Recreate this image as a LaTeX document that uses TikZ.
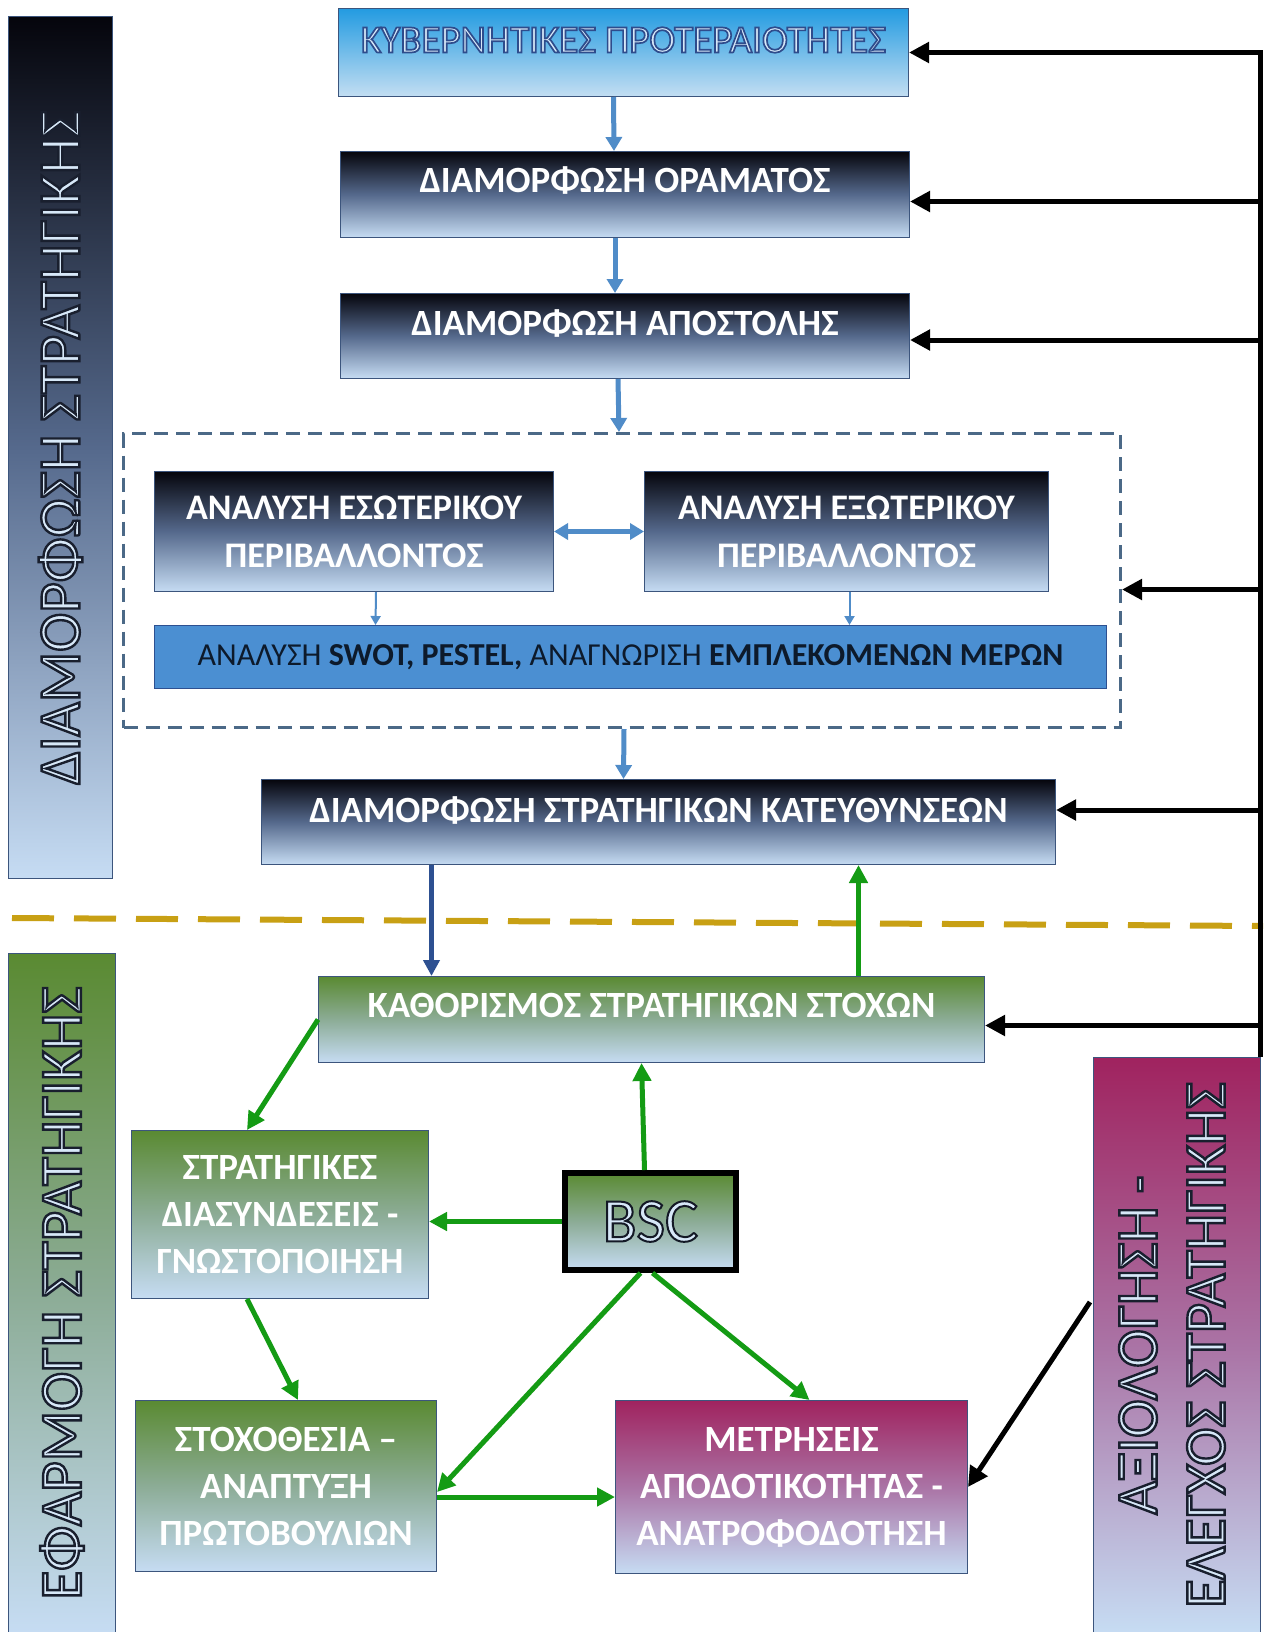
\documentclass[tikz,border=0pt]{standalone}
\usepackage{fontspec}
\setmainfont{Carlito}
\usetikzlibrary{arrows.meta,calc}
\definecolor{dkTop}{RGB}{5,5,12}
\definecolor{dkMid}{RGB}{85,105,140}
\definecolor{ltBot}{RGB}{198,220,243}
\definecolor{skyTop}{RGB}{35,155,225}
\definecolor{skyBot}{RGB}{195,222,242}
\definecolor{grTop}{RGB}{90,138,50}
\definecolor{grMid}{RGB}{140,172,150}
\definecolor{mgTop}{RGB}{160,35,95}
\definecolor{mgMid}{RGB}{170,115,165}
\definecolor{edge}{RGB}{60,85,125}
\definecolor{swotFill}{RGB}{75,143,210}
\definecolor{arrBlue}{RGB}{80,140,200}
\definecolor{arrNavy}{RGB}{45,80,145}
\definecolor{arrGreen}{RGB}{20,155,20}
\definecolor{goldline}{RGB}{200,160,20}
\definecolor{dashEdge}{RGB}{75,105,135}
\definecolor{paleText}{RGB}{215,232,248}
\definecolor{swotText}{RGB}{13,26,43}
% outlined text: #1 = stroke rgb (0..1 triple), #2 = stroke width (bp), #3 = text
\newcommand{\otext}[3]{\special{pdf:code 2 Tr #2 w #1 RG}#3\special{pdf:code 0 Tr}}
\begin{document}
\begin{tikzpicture}[x=1pt,y=-1pt,
  box/.style={draw=edge, line width=1pt, anchor=north west, inner sep=0pt, align=center, text=white,
    font=\bfseries\fontsize{37}{48}\selectfont},
  dark/.style={box, top color=dkTop, bottom color=ltBot, middle color=dkMid},
  sky/.style={box, top color=skyTop, bottom color=skyBot},
  grn/.style={box, top color=grTop, bottom color=ltBot, middle color=grMid},
  mag/.style={box, top color=mgTop, bottom color=ltBot, middle color=mgMid},
  bar/.style={draw=edge, line width=1pt, anchor=north west, inner sep=0pt,
    font=\fontsize{59}{68}\selectfont},
  lift/.style={text height=24pt, text depth=#1},
  blu/.style={draw=arrBlue, line width=5pt, -{Triangle[length=14pt,width=16pt]}},
  blus/.style={draw=arrBlue, line width=2pt, -{Triangle[length=9pt,width=10pt]}},
  garrow/.style={draw=arrGreen, line width=5pt, -{Triangle[length=18pt,width=18pt]}},
  blk/.style={draw=black, line width=5pt, -{Triangle[length=20pt,width=20pt]}}
]
\path[use as bounding box, fill=white] (0,0) rectangle (1263,1632);

% side bars
\node[bar, top color=dkTop, bottom color=ltBot, middle color=dkMid, minimum width=104pt, minimum height=862pt] (bar1) at (8,16)
  {\rotatebox{90}{\color{paleText}\otext{0.1 0.12 0.18}{2.4}{ΔΙΑΜΟΡΦΩΣΗ ΣΤΡΑΤΗΓΙΚΗΣ}}};
\node[bar, top color=grTop, bottom color=ltBot, middle color=grMid, minimum width=107pt, minimum height=679pt] (bar2) at (8,953)
  {\rotatebox{90}{\color{paleText}\otext{0.1 0.12 0.18}{2.4}{ΕΦΑΡΜΟΓΗ ΣΤΡΑΤΗΓΙΚΗΣ}}};
\node[bar, top color=mgTop, bottom color=ltBot, middle color=mgMid, minimum width=167pt, minimum height=575pt, font=\fontsize{58}{68}\selectfont] (bar3) at (1093,1057)
  {\rotatebox{90}{\color{paleText}\otext{0.1 0.12 0.18}{2.4}{\begin{tabular}{@{}c@{}}ΑΞΙΟΛΟΓΗΣΗ -\\ΕΛΕΓΧΟΣ ΣΤΡΑΤΗΓΙΚΗΣ\end{tabular}}}};

% top chain
\node[sky, minimum width=570pt, minimum height=88pt, lift=24pt, font=\fontsize{39}{44}\selectfont] (kyb) at (338,8)
  {\color{paleText}\otext{0.18 0.3 0.55}{1.7}{ΚΥΒΕΡΝΗΤΙΚΕΣ ΠΡΟΤΕΡΑΙΟΤΗΤΕΣ}};
\node[dark, minimum width=569pt, minimum height=86pt, lift=28pt] (orama) at (340,151) {ΔΙΑΜΟΡΦΩΣΗ ΟΡΑΜΑΤΟΣ};
\node[dark, minimum width=569pt, minimum height=85pt, lift=26pt] (apost) at (340,293) {ΔΙΑΜΟΡΦΩΣΗ ΑΠΟΣΤΟΛΗΣ};

% analysis group
\node[draw=dashEdge, line width=3pt, dash pattern=on 14pt off 8pt, anchor=north west, inner sep=0pt,
  minimum width=997pt, minimum height=294pt] (grp) at (122,432) {};
\node[dark, minimum width=399pt, minimum height=120pt, font=\bfseries\fontsize{36}{48}\selectfont] (int) at (154,471)
  {ΑΝΑΛΥΣΗ ΕΣΩΤΕΡΙΚΟΥ\\ΠΕΡΙΒΑΛΛΟΝΤΟΣ};
\node[dark, minimum width=404pt, minimum height=120pt, font=\bfseries\fontsize{36}{48}\selectfont] (ext) at (644,471)
  {ΑΝΑΛΥΣΗ ΕΞΩΤΕΡΙΚΟΥ\\ΠΕΡΙΒΑΛΛΟΝΤΟΣ};
\node[box, fill=swotFill, draw=arrNavy, minimum width=952pt, minimum height=63pt, text=swotText, font=\bfseries\fontsize{32}{34}\selectfont] (swot) at (154,625)
  {{\mdseries ΑΝΑΛΥΣΗ} SWOT, PESTEL, {\mdseries ΑΝΑΓΝΩΡΙΣΗ} ΕΜΠΛΕΚΟΜΕΝΩΝ ΜΕΡΩΝ};

\node[dark, minimum width=794pt, minimum height=85pt, lift=24pt] (kat) at (261,779) {ΔΙΑΜΟΡΦΩΣΗ ΣΤΡΑΤΗΓΙΚΩΝ ΚΑΤΕΥΘΥΝΣΕΩΝ};

% divider
\coordinate (gl) at (12,918);
\coordinate (gr) at (1263,926);
\draw[goldline, line width=6pt, dash pattern=on 42pt off 20pt] (gl) -- (gr);

% implementation
\node[grn, minimum width=666pt, minimum height=86pt, lift=28pt] (stox) at (318,976) {ΚΑΘΟΡΙΣΜΟΣ ΣΤΡΑΤΗΓΙΚΩΝ ΣΤΟΧΩΝ};
\node[grn, minimum width=297pt, minimum height=168pt, font=\bfseries\fontsize{37}{47}\selectfont] (dias) at (131,1130)
  {ΣΤΡΑΤΗΓΙΚΕΣ\\ΔΙΑΣΥΝΔΕΣΕΙΣ -\\ΓΝΩΣΤΟΠΟΙΗΣΗ};
\node[grn, draw=black, line width=6pt, minimum width=171pt, minimum height=97pt, font=\fontsize{62}{66}\selectfont] (bsc) at (562,1170)
  {\color{paleText}\otext{0.08 0.1 0.15}{2}{BSC}};
\node[grn, minimum width=301pt, minimum height=171pt, font=\bfseries\fontsize{37}{47}\selectfont] (stoxo) at (135,1400)
  {ΣΤΟΧΟΘΕΣΙΑ –\\ΑΝΑΠΤΥΞΗ\\ΠΡΩΤΟΒΟΥΛΙΩΝ};
\node[mag, minimum width=352pt, minimum height=173pt, font=\bfseries\fontsize{37}{47}\selectfont] (metr) at (615,1400)
  {ΜΕΤΡΗΣΕΙΣ\\ΑΠΟΔΟΤΙΚΟΤΗΤΑΣ -\\ΑΝΑΤΡΟΦΟΔΟΤΗΣΗ};

% blue arrows
\draw[blu] ($(kyb.south)+(-10,0)$) -- ($(orama.north)+(-11,0)$);
\draw[blu] ($(orama.south)+(-10,0)$) -- ($(apost.north)+(-10,0)$);
\draw[blu] ($(apost.south)+(-7,0)$) -- ($(grp.north)+(-3,0)$);
\draw[blu] ($(grp.south)+(2,0)$) -- ($(kat.north)+(-35,0)$);
\draw[draw=arrBlue, line width=5pt, {Triangle[length=14pt,width=16pt]}-{Triangle[length=14pt,width=16pt]}] (int.east) -- (ext.west);
\draw[blus] ($(int.south)+(22,0)$) -- ($(swot.north)+(-255,0)$);
\draw[blus] ($(ext.south)+(3,0)$) -- ($(swot.north)+(219,0)$);

% between phases
\draw[draw=arrNavy, line width=5pt, -{Triangle[length=16pt,width=16pt]}] ($(kat.south)+(-227,0)$) -- ($(stox.north)+(-220,0)$);
\draw[garrow] ($(stox.north)+(207,0)$) -- ($(kat.south)+(200,0)$);

% green arrows
\draw[garrow] (stox.west) -- ($(dias.north)+(-33,0)$);
\draw[garrow] ($(bsc.north)+(-6,0)$) -- ($(stox.south)+(-10,0)$);
\draw[garrow] (bsc.west) -- (bsc.west -| dias.east);
\draw[garrow] ($(dias.south)+(-33,0)$) -- ($(stoxo.north)+(12,0)$);
\draw[garrow] ($(bsc.south)+(-10,0)$) -- ($(stoxo.east)+(0,6)$);
\draw[garrow] ($(bsc.south)+(2,0)$) -- ($(metr.north)+(18,0)$);
\draw[garrow] ($(stoxo.east)+(0,11)$) -- ($(metr.west)+(0,10)$);

% feedback (black)
\coordinate (rb) at (1260,1057);
\draw[blk] (rb) |- (kyb.east);
\draw[blk] ($(orama.east -| rb)+(0,7)$) -- ($(orama.east)+(0,7)$);
\draw[blk] ($(apost.east -| rb)+(0,4)$) -- ($(apost.east)+(0,4)$);
\draw[blk] ($(grp.east -| rb)+(0,9)$) -- ($(grp.east)+(0,9)$);
\draw[blk] ($(kat.east -| rb)+(0,-12)$) -- ($(kat.east)+(0,-12)$);
\draw[blk] ($(stox.east -| rb)+(0,6)$) -- ($(stox.east)+(0,6)$);
\draw[blk] ($(bar3.west)+(-3,-43)$) -- (metr.east);
\end{tikzpicture}
\end{document}
